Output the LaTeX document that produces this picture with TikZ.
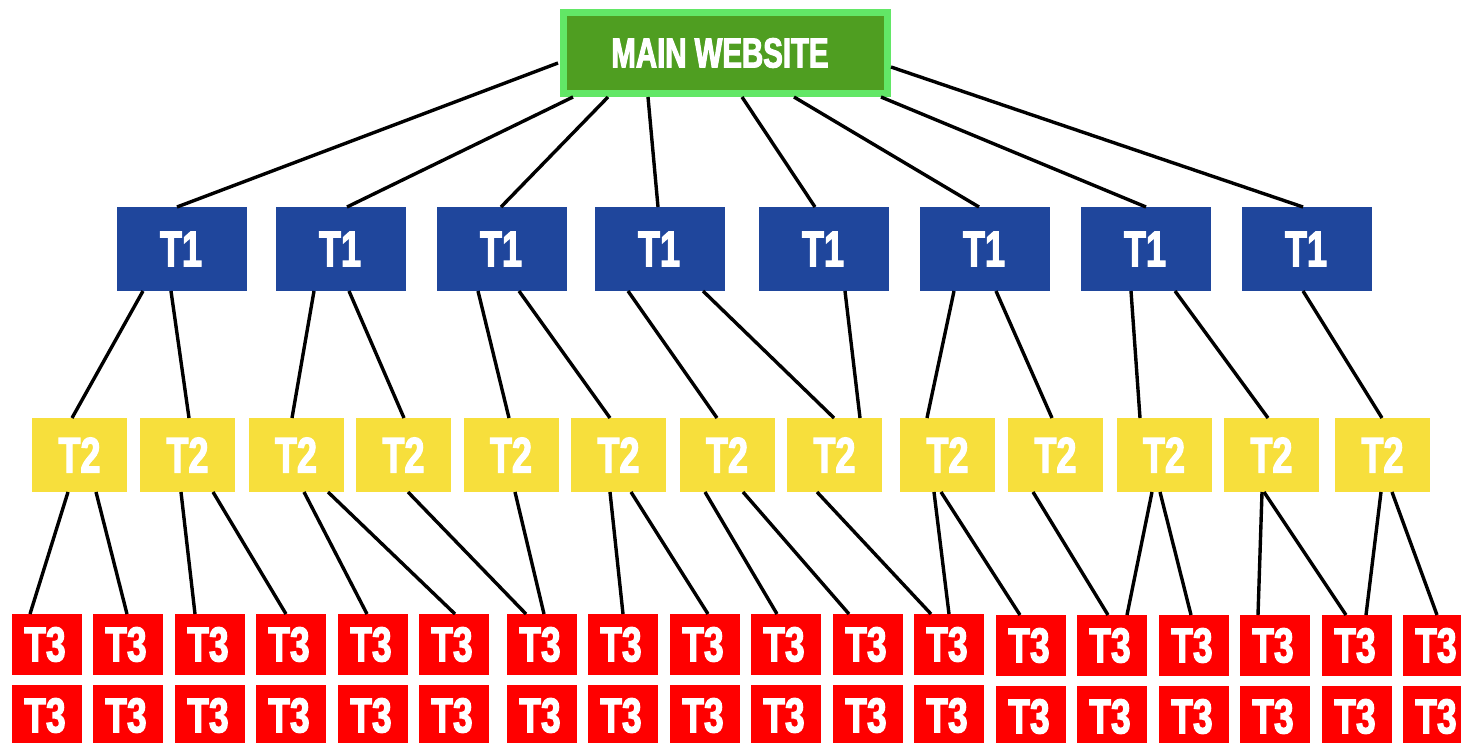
\documentclass[tikz,border=0pt]{standalone}
\usepackage{fontspec}
\newfontfamily\impactbig[FakeStretch=0.72,FakeBold=2.4]{Liberation Sans}
\newfontfamily\impactmain[FakeStretch=0.70,FakeBold=2.4]{Liberation Sans}
\definecolor{mainfill}{HTML}{4F9E21}
\definecolor{mainedge}{HTML}{62E766}
\definecolor{tonefill}{HTML}{1F469C}
\definecolor{ttwofill}{HTML}{F7DF3C}
\definecolor{tthrfill}{HTML}{FF0000}
\tikzset{
  box/.style={inner sep=0pt,outer sep=0pt,text=white,align=center},
  mainbox/.style={box,outer sep=3.5pt,fill=mainfill,draw=mainedge,line width=7pt,minimum width=324pt,minimum height=81pt,font=\impactmain\bfseries\fontsize{42}{42}\selectfont},
  tonebox/.style={box,fill=tonefill,minimum width=130pt,minimum height=84pt,font=\impactbig\bfseries\fontsize{50}{50}\selectfont},
  ttwobox/.style={box,fill=ttwofill,minimum width=95pt,minimum height=74pt,font=\impactbig\bfseries\fontsize{50}{50}\selectfont},
  tthrbox/.style={box,fill=tthrfill,minimum width=70pt,minimum height=61pt,font=\impactbig\bfseries\fontsize{49}{49}\selectfont},
  link/.style={draw=black,line width=3.4pt}
}
\newcommand{\dn}[4]{\draw[link] (#2,0 |- #1.south) -- (#4,0 |- #3.north);}
\begin{document}
\begin{tikzpicture}[x=1pt,y=-1pt]
\useasboundingbox (0,0) rectangle (1461,742);
\clip (0,0) rectangle (1461,742);
\fill[white] (0,0) rectangle (1461,742);
\node[mainbox] (main) at (725.5,53) {\kern-11pt MAIN WEBSITE};
\foreach \n/\x in {1/117,2/276,3/437,4/595,5/759,6/920,7/1081,8/1242}
  \node[tonebox] (a\n) at (\x+65,249) {\kern-2pt T1};
\foreach \n/\x in {1/32,2/140,3/248.5,4/356,5/463.5,6/571,7/679.5,8/787,9/900,10/1008,11/1116.5,12/1224,13/1335}
  \node[ttwobox] (b\n) at (\x+47.5,455) {T2};
\foreach \n/\x/\y in {1/12/614,2/93/614,3/175/614,4/256/614,5/338/614,6/419/614,7/507/614,8/588/614,9/670/614,10/751/614,11/833/614,12/914/614,13/996/615,14/1077/615,15/1159/615,16/1240/615,17/1322/615,18/1403/615}{
  \node[tthrbox] (c\n) at (\x+35,\y+30.5) {\kern-4pt T3};
  \node[tthrbox] (d\n) at (\x+35,\y+101.5) {\kern-4pt T3};
}
% main to T1
\draw[link] ([yshift=-10pt,xshift=-2pt]main.west) -- (177,0 |- a1.north);
\draw[link] (573,0 |- main.south) -- (347,0 |- a2.north);
\draw[link] (608,0 |- main.south) -- (501,0 |- a3.north);
\draw[link] (648,0 |- main.south) -- (658,0 |- a4.north);
\draw[link] (742,0 |- main.south) -- (815,0 |- a5.north);
\draw[link] (794,0 |- main.south) -- (979,0 |- a6.north);
\draw[link] (881,0 |- main.south) -- (1146,0 |- a7.north);
\draw[link] ([yshift=-14pt]main.east) -- (1303,0 |- a8.north);
% T1 to T2
\dn{a1}{143}{b1}{72}
\dn{a1}{171}{b2}{189}
\dn{a2}{314}{b3}{292}
\dn{a2}{349}{b4}{404}
\dn{a3}{478}{b5}{509}
\dn{a3}{519}{b6}{610}
\dn{a4}{628}{b7}{717}
\dn{a4}{703}{b8}{834}
\dn{a5}{845}{b8}{860}
\dn{a6}{954}{b9}{927}
\dn{a6}{996}{b10}{1052}
\dn{a7}{1131}{b11}{1140}
\dn{a7}{1175}{b12}{1268}
\dn{a8}{1303}{b13}{1382}
% T2 to T3
\dn{b1}{68}{c1}{30}
\dn{b1}{96}{c2}{127}
\dn{b2}{181}{c3}{195}
\dn{b2}{213}{c4}{286}
\dn{b3}{304}{c5}{367}
\dn{b3}{328}{c6}{455}
\dn{b4}{408}{c7}{526}
\dn{b5}{515}{c7}{544}
\dn{b6}{610}{c8}{623}
\dn{b6}{631}{c9}{708}
\dn{b7}{705}{c10}{777}
\dn{b7}{743}{c11}{849}
\dn{b8}{817}{c12}{931}
\dn{b9}{934}{c12}{949}
\dn{b9}{941}{c13}{1020}
\dn{b10}{1033}{c14}{1108}
\dn{b11}{1152}{c14}{1127}
\dn{b11}{1160}{c15}{1191}
\dn{b12}{1262}{c16}{1258}
\dn{b12}{1264}{c17}{1346}
\dn{b13}{1381}{c17}{1366}
\dn{b13}{1392}{c18}{1437}
\end{tikzpicture}
\end{document}
